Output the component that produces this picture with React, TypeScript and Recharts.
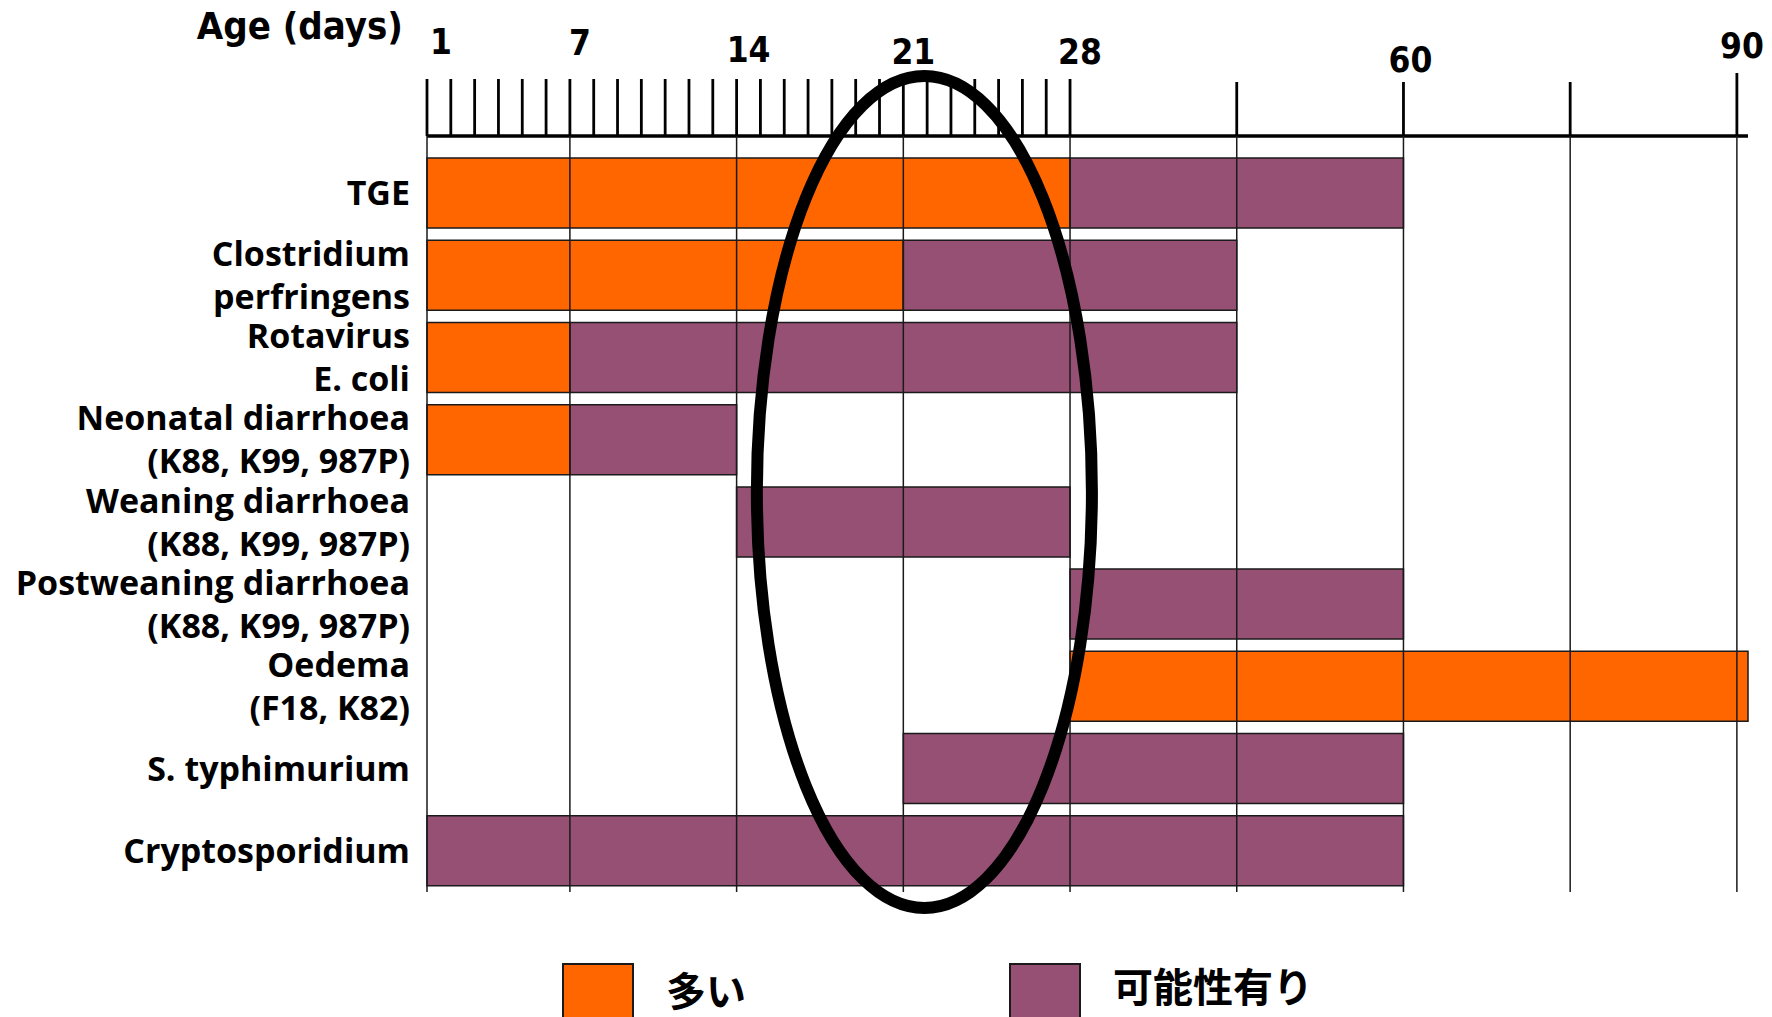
import { BarChart, Bar, XAxis, YAxis, ReferenceLine, ReferenceArea, Legend, Label } from 'recharts'

// Disease rows, top to bottom
const DISEASES = [
  'TGE',
  'Clostridium\nperfringens',
  'Rotavirus\nE. coli',
  'Neonatal diarrhoea\n(K88, K99, 987P)',
  'Weaning diarrhoea\n(K88, K99, 987P)',
  'Postweaning diarrhoea\n(K88, K99, 987P)',
  'Oedema\n(F18, K82)',
  'S. typhimurium',
  'Cryptosporidium'
]

// Age window (days) where the disease is common (多い)
const COMMON_FROM = [1, 1, 1, 1, null, null, 28, null, null]
const COMMON_TO = [28, 21, 7, 7, null, null, 91, null, null]

// Age window (days) where the disease is possible (可能性有り)
const POSSIBLE_FROM = [28, 21, 7, 7, 14, 28, null, 21, 1]
const POSSIBLE_TO = [60, 44, 44, 14, 28, 60, null, 60, 60]

// Ruler marks, labelled days and grid columns
const RULER_DAYS = [
  1, 2, 3, 4, 5, 6, 7, 8, 9, 10, 11, 12, 13, 14, 15, 16, 17, 18, 19, 20,
  21, 22, 23, 24, 25, 26, 27, 28, 44, 60, 75, 90
]
const LABELLED_DAYS = [1, 7, 14, 21, 28, 60, 90]
const GRID_DAYS = [1, 7, 14, 21, 28, 44, 60, 75, 90]

// Age range circled on the chart
const HIGHLIGHT_DAYS = [14.85, 30.1]

// Legend order
const LEGEND_KEYS = ['common', 'possible']

const ORANGE = '#FF6600'
const PURPLE = '#955073'
const EDGE = '#1a1a1a'

// The age axis is stretched: one unit per day up to day 28, then each
// later column (28-44, 44-60, 60-75, 75-90) is as wide as a week.
const BREAK_DAYS = [1, 28, 44, 60, 75, 90]
const BREAK_UNITS = [0, 27, 34, 41, 48, 55]

function toUnit(day: number): number {
  let i = 0
  while (i < BREAK_DAYS.length - 2 && day > BREAK_DAYS[i + 1]) i++
  const d0 = BREAK_DAYS[i], d1 = BREAK_DAYS[i + 1]
  const u0 = BREAK_UNITS[i], u1 = BREAK_UNITS[i + 1]
  return u0 + ((day - d0) * (u1 - u0)) / (d1 - d0)
}

const rows = DISEASES.map((name, i) => {
  const cFrom = COMMON_FROM[i], cTo = COMMON_TO[i]
  const pFrom = POSSIBLE_FROM[i], pTo = POSSIBLE_TO[i]
  const start = (cFrom ?? pFrom) as number
  return {
    name,
    lead: toUnit(start),
    common: cFrom != null && cTo != null ? toUnit(cTo) - toUnit(cFrom) : 0,
    possible: pFrom != null && pTo != null ? toUnit(pTo) - toUnit(pFrom) : 0
  }
})

// hand-placed day numbers above the ruler: [dx, rise above axis line]
const DAY_LABEL_NUDGE: Record<number, [number, number]> = {
  1: [14, 82],
  7: [10, 81],
  14: [12, 74],
  21: [10, 72],
  28: [10, 72],
  60: [7, 64],
  90: [5, 78]
}

function RulerTick({ x, y, index }: any) {
  const day = RULER_DAYS[index]
  const len = day <= 28 ? 57 : day === 90 ? 63 : 54
  const nudge = DAY_LABEL_NUDGE[day]
  return (
    <g>
      <line x1={x} x2={x} y1={y} y2={y - len} stroke="#000" strokeWidth={2.8} />
      {LABELLED_DAYS.includes(day) && nudge && (
        <text
          x={x + nudge[0]}
          y={y - nudge[1]}
          textAnchor="middle"
          fontFamily="'Liberation Sans Narrow', 'DejaVu Sans Condensed', sans-serif"
          fontStretch="condensed"
          fontWeight={700}
          fontSize={35}
          fill="#000"
        >
          {day}
        </text>
      )}
    </g>
  )
}

function DiseaseTick({ x, y, payload }: any) {
  const lines = String(payload.value).split('\n')
  const lineGap = 43
  const first = y + 12 - ((lines.length - 1) * lineGap) / 2
  return (
    <text
      x={x}
      y={first}
      textAnchor="end"
      fontFamily="'Open Sans', sans-serif"
      fontWeight={700}
      fontSize={34}
      fill="#000"
    >
      {lines.map((line, i) => (
        <tspan key={i} x={x} y={first + i * lineGap}>
          {line}
        </tspan>
      ))}
    </text>
  )
}

function AgeTitle({ viewBox }: any) {
  return (
    <text
      x={viewBox.x - 24}
      y={39}
      textAnchor="end"
      fontFamily="'DejaVu Sans Condensed', 'DejaVu Sans', sans-serif"
      fontStretch="condensed"
      fontWeight={700}
      fontSize={38}
      fill="#000"
    >
      Age (days)
    </text>
  )
}

function HighlightEllipse({ x, y, width, height }: any) {
  return (
    <ellipse
      cx={x + width / 2}
      cy={y + height / 2 - 30}
      rx={width / 2}
      ry={height / 2 + 46}
      fill="none"
      stroke="#000"
      strokeWidth={12}
    />
  )
}

const legendTextDrop = [6, 2]

function LegendContent({ payload }: any) {
  const entries = LEGEND_KEYS.map(key => (payload || []).find((p: any) => p.dataKey === key)).filter(Boolean)
  return (
    <div style={{ display: 'flex', alignItems: 'flex-start' }}>
      {entries.map((entry: any, i: number) => (
        <div key={entry.value} style={{ display: 'flex', alignItems: 'flex-start', width: 447 }}>
          <div
            style={{
              width: 72,
              height: 62,
              boxSizing: 'border-box',
              border: `2px solid ${EDGE}`,
              background: entry.color
            }}
          />
          <span
            style={{
              marginLeft: 32,
              marginTop: legendTextDrop[i],
              fontFamily: "'Noto Sans CJK JP', sans-serif",
              fontWeight: 700,
              fontSize: 40,
              lineHeight: '40px',
              color: '#000'
            }}
          >
            {entry.value}
          </span>
        </div>
      ))}
    </div>
  )
}

export default function App() {
  return (
    <div style={{ width: 1772, height: 1017, position: 'relative', overflow: 'hidden', background: '#fff' }}>
      <style>{'body{margin:0;overflow:hidden;background:#fff}'}</style>
      <BarChart
        width={1772}
        height={1017}
        data={rows}
        layout="vertical"
        barSize={70}
        margin={{ top: 0, right: 24, bottom: 125, left: 0 }}
      >
        <XAxis
          type="number"
          orientation="top"
          domain={[0, 'dataMax']}
          ticks={RULER_DAYS.map(toUnit)}
          interval={0}
          height={136}
          tickSize={0}
          tickMargin={0}
          tickLine={false}
          axisLine={{ stroke: '#000', strokeWidth: 3.5 }}
          tick={<RulerTick />}
        >
          <Label content={<AgeTitle />} />
        </XAxis>
        <YAxis
          type="category"
          dataKey="name"
          width={427}
          interval={0}
          padding={{ top: 16, bottom: 0 }}
          axisLine={false}
          tickLine={false}
          tickSize={0}
          tickMargin={17}
          tick={<DiseaseTick />}
        />
        <Bar dataKey="lead" stackId="age" fill="transparent" legendType="none" isAnimationActive={false} />
        <Bar
          dataKey="common"
          name="多い"
          stackId="age"
          fill={ORANGE}
          stroke={EDGE}
          strokeWidth={1.5}
          isAnimationActive={false}
        />
        <Bar
          dataKey="possible"
          name="可能性有り"
          stackId="age"
          fill={PURPLE}
          stroke={EDGE}
          strokeWidth={1.5}
          isAnimationActive={false}
        />
        {GRID_DAYS.map(d => (
          <ReferenceLine key={d} x={toUnit(d)} stroke={EDGE} strokeWidth={1.5} ifOverflow="visible" zIndex={1400} />
        ))}
        <ReferenceArea
          x1={toUnit(HIGHLIGHT_DAYS[0])}
          x2={toUnit(HIGHLIGHT_DAYS[1])}
          y1={DISEASES[0]}
          y2={DISEASES[DISEASES.length - 1]}
          ifOverflow="visible"
          shape={HighlightEllipse}
          zIndex={1500}
        />
        <Legend
          layout="vertical"
          align="center"
          verticalAlign="middle"
          content={LegendContent}
          wrapperStyle={{ top: 963, left: 562, width: 1000 }}
        />
      </BarChart>
    </div>
  )
}
